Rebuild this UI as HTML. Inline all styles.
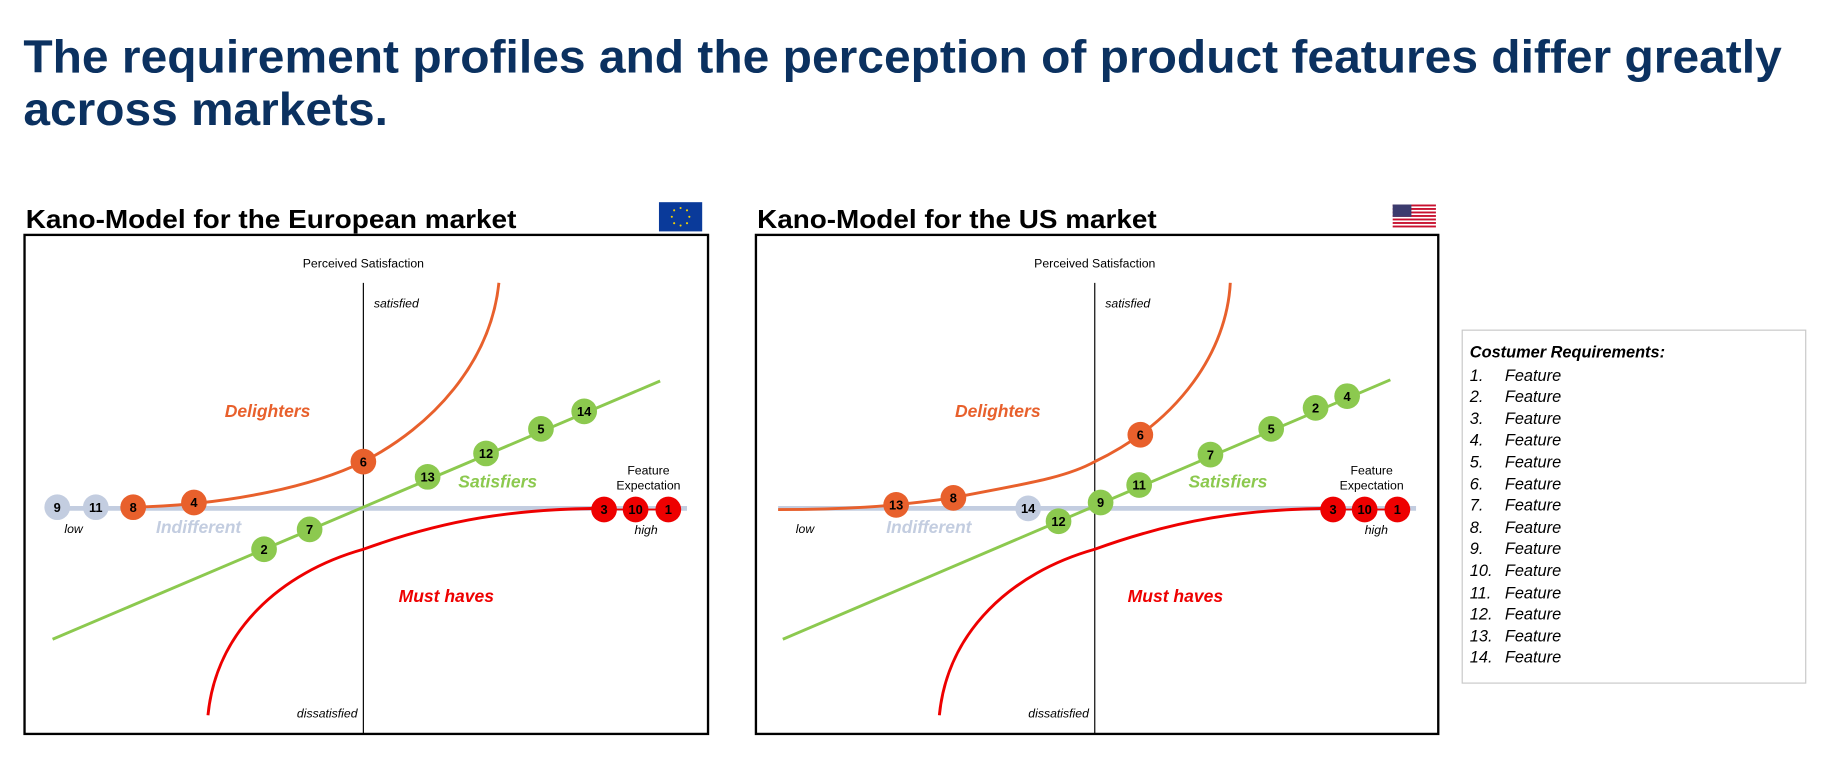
<!DOCTYPE html>
<html><head><meta charset="utf-8"><style>
html,body{margin:0;padding:0;background:#fff}
svg{display:block}
text{font-family:"Liberation Sans",Arial,sans-serif}
</style></head><body>
<svg width="1832" height="776" viewBox="0 0 1568 664" preserveAspectRatio="none" xmlns="http://www.w3.org/2000/svg">
<text x="20" y="62" font-size="40" font-weight="bold" fill="#0b3160" textLength="1505" lengthAdjust="spacingAndGlyphs">The requirement profiles and the perception of product features differ greatly</text>
<text x="20" y="107" font-size="40" font-weight="bold" fill="#0b3160" textLength="312" lengthAdjust="spacingAndGlyphs">across markets.</text>

<text x="22" y="195" font-size="22" font-weight="bold" textLength="420" lengthAdjust="spacingAndGlyphs">Kano-Model for the European market</text>
<rect x="564" y="173" width="37" height="25" fill="#0a3a9a"/>
<g fill="#f5d000">
<circle cx="582.5" cy="178" r="0.9"/><circle cx="588" cy="180" r="0.9"/><circle cx="590" cy="185.5" r="0.9"/><circle cx="588" cy="191" r="0.9"/><circle cx="582.5" cy="193" r="0.9"/><circle cx="577" cy="191" r="0.9"/><circle cx="575" cy="185.5" r="0.9"/><circle cx="577" cy="180" r="0.9"/>
</g>
<text x="648" y="195" font-size="22" font-weight="bold" textLength="342" lengthAdjust="spacingAndGlyphs">Kano-Model for the US market</text>
<g>
<rect x="1192" y="175" width="37" height="20" fill="#fff"/>
<rect x="1192" y="175" width="37" height="1.6" fill="#c8102e"/><rect x="1192" y="178" width="37" height="1.6" fill="#c8102e"/><rect x="1192" y="181" width="37" height="1.6" fill="#c8102e"/><rect x="1192" y="184" width="37" height="1.6" fill="#c8102e"/><rect x="1192" y="187" width="37" height="1.6" fill="#c8102e"/><rect x="1192" y="190" width="37" height="1.6" fill="#c8102e"/><rect x="1192" y="193" width="37" height="1.6" fill="#c8102e"/>
<rect x="1192" y="175" width="16" height="10.5" fill="#3c3b6e"/>
</g>

<!-- EU chart -->
<g>
<rect x="21" y="201" width="585" height="427" fill="none" stroke="#000" stroke-width="2"/>
<line x1="311" y1="242" x2="311" y2="628" stroke="#000" stroke-width="1"/>
<text x="311" y="229" font-size="10.5" text-anchor="middle">Perceived Satisfaction</text>
<text x="320" y="263" font-size="10.5" font-style="italic">satisfied</text>
<text x="306" y="614" font-size="10.5" font-style="italic" text-anchor="end">dissatisfied</text>
<line x1="40" y1="435" x2="588" y2="435" stroke="#c3cde0" stroke-width="4"/>
<line x1="45" y1="547" x2="565" y2="326" stroke="#8cc94f" stroke-width="2.5"/>
<path d="M113,434 C200,432 270,415 311,395 C370,365 420,310 427,242" fill="none" stroke="#e8602c" stroke-width="2.5"/>
<path d="M178,612 C185,540 240,490 311,470 C380,445 440,435 520,435" fill="none" stroke="#ee0000" stroke-width="2.5"/>
<text x="229" y="357" font-size="15" font-weight="bold" font-style="italic" fill="#e8602c" text-anchor="middle">Delighters</text>
<text x="426" y="417" font-size="15" font-weight="bold" font-style="italic" fill="#8cc94f" text-anchor="middle">Satisfiers</text>
<text x="170" y="456" font-size="15" font-weight="bold" font-style="italic" fill="#c3cde0" text-anchor="middle">Indifferent</text>
<text x="382" y="515" font-size="15" font-weight="bold" font-style="italic" fill="#ee0000" text-anchor="middle">Must haves</text>
<text x="555" y="406" font-size="10.5" text-anchor="middle">Feature</text>
<text x="555" y="419" font-size="10.5" text-anchor="middle">Expectation</text>
<text x="63" y="456" font-size="10.5" font-style="italic" text-anchor="middle">low</text>
<text x="553" y="457" font-size="10.5" font-style="italic" text-anchor="middle">high</text>
</g>
<g font-size="11" font-weight="bold" text-anchor="middle">
<circle cx="49" cy="434" r="11" fill="#c3cde0"/><text x="49" y="438">9</text>
<circle cx="82" cy="434" r="11" fill="#c3cde0"/><text x="82" y="438">11</text>
<circle cx="114" cy="434" r="11" fill="#e8602c"/><text x="114" y="438">8</text>
<circle cx="166" cy="430" r="11" fill="#e8602c"/><text x="166" y="434">4</text>
<circle cx="311" cy="395" r="11" fill="#e8602c"/><text x="311" y="399">6</text>
<circle cx="226" cy="470" r="11" fill="#8cc94f"/><text x="226" y="474">2</text>
<circle cx="265" cy="453" r="11" fill="#8cc94f"/><text x="265" y="457">7</text>
<circle cx="366" cy="408" r="11" fill="#8cc94f"/><text x="366" y="412">13</text>
<circle cx="416" cy="388" r="11" fill="#8cc94f"/><text x="416" y="392">12</text>
<circle cx="463" cy="367" r="11" fill="#8cc94f"/><text x="463" y="371">5</text>
<circle cx="500" cy="352" r="11" fill="#8cc94f"/><text x="500" y="356">14</text>
<line x1="517" y1="436" x2="572" y2="436" stroke="#ee0000" stroke-width="1.5"/>
<circle cx="517" cy="436" r="11" fill="#ee0000"/><text x="517" y="440">3</text>
<circle cx="544" cy="436" r="11" fill="#ee0000"/><text x="544" y="440">10</text>
<circle cx="572" cy="436" r="11" fill="#ee0000"/><text x="572" y="440">1</text>
</g>

<!-- US chart -->
<g>
<rect x="647" y="201" width="584" height="427" fill="none" stroke="#000" stroke-width="2"/>
<line x1="937" y1="242" x2="937" y2="628" stroke="#000" stroke-width="1"/>
<text x="937" y="229" font-size="10.5" text-anchor="middle">Perceived Satisfaction</text>
<text x="946" y="263" font-size="10.5" font-style="italic">satisfied</text>
<text x="932" y="614" font-size="10.5" font-style="italic" text-anchor="end">dissatisfied</text>
<line x1="666" y1="435" x2="1212" y2="435" stroke="#c3cde0" stroke-width="4"/>
<line x1="670" y1="547" x2="1190" y2="325" stroke="#8cc94f" stroke-width="2.5"/>
<path d="M666,436 C720,436 760,434 816,426 C870,415 910,410 937,395 C1010,360 1050,300 1053,242" fill="none" stroke="#e8602c" stroke-width="2.5"/>
<path d="M804,612 C811,540 866,490 937,470 C1006,445 1066,435 1146,435" fill="none" stroke="#ee0000" stroke-width="2.5"/>
<text x="854" y="357" font-size="15" font-weight="bold" font-style="italic" fill="#e8602c" text-anchor="middle">Delighters</text>
<text x="1051" y="417" font-size="15" font-weight="bold" font-style="italic" fill="#8cc94f" text-anchor="middle">Satisfiers</text>
<text x="795" y="456" font-size="15" font-weight="bold" font-style="italic" fill="#c3cde0" text-anchor="middle">Indifferent</text>
<text x="1006" y="515" font-size="15" font-weight="bold" font-style="italic" fill="#ee0000" text-anchor="middle">Must haves</text>
<text x="1174" y="406" font-size="10.5" text-anchor="middle">Feature</text>
<text x="1174" y="419" font-size="10.5" text-anchor="middle">Expectation</text>
<text x="689" y="456" font-size="10.5" font-style="italic" text-anchor="middle">low</text>
<text x="1178" y="457" font-size="10.5" font-style="italic" text-anchor="middle">high</text>
</g>
<g font-size="11" font-weight="bold" text-anchor="middle">
<circle cx="767" cy="432" r="11" fill="#e8602c"/><text x="767" y="436">13</text>
<circle cx="816" cy="426" r="11" fill="#e8602c"/><text x="816" y="430">8</text>
<circle cx="976" cy="372" r="11" fill="#e8602c"/><text x="976" y="376">6</text>
<circle cx="880" cy="435" r="11" fill="#c3cde0"/><text x="880" y="439">14</text>
<circle cx="906" cy="446" r="11" fill="#8cc94f"/><text x="906" y="450">12</text>
<circle cx="942" cy="430" r="11" fill="#8cc94f"/><text x="942" y="434">9</text>
<circle cx="975" cy="415" r="11" fill="#8cc94f"/><text x="975" y="419">11</text>
<circle cx="1036" cy="389" r="11" fill="#8cc94f"/><text x="1036" y="393">7</text>
<circle cx="1088" cy="367" r="11" fill="#8cc94f"/><text x="1088" y="371">5</text>
<circle cx="1126" cy="349" r="11" fill="#8cc94f"/><text x="1126" y="353">2</text>
<circle cx="1153" cy="339" r="11" fill="#8cc94f"/><text x="1153" y="343">4</text>
<line x1="1141" y1="436" x2="1196" y2="436" stroke="#ee0000" stroke-width="1.5"/>
<circle cx="1141" cy="436" r="11" fill="#ee0000"/><text x="1141" y="440">3</text>
<circle cx="1168" cy="436" r="11" fill="#ee0000"/><text x="1168" y="440">10</text>
<circle cx="1196" cy="436" r="11" fill="#ee0000"/><text x="1196" y="440">1</text>
</g>

<!-- Legend -->
<rect x="1251.5" y="282.5" width="294" height="302" fill="none" stroke="#c8c8c8" stroke-width="1"/>
<text x="1258" y="306" font-size="14" font-weight="bold" font-style="italic">Costumer Requirements:</text>
<g font-size="14" font-style="italic">
<text x="1258" y="326">1.</text><text x="1288" y="326">Feature</text>
<text x="1258" y="344">2.</text><text x="1288" y="344">Feature</text>
<text x="1258" y="363">3.</text><text x="1288" y="363">Feature</text>
<text x="1258" y="381">4.</text><text x="1288" y="381">Feature</text>
<text x="1258" y="400">5.</text><text x="1288" y="400">Feature</text>
<text x="1258" y="419">6.</text><text x="1288" y="419">Feature</text>
<text x="1258" y="437">7.</text><text x="1288" y="437">Feature</text>
<text x="1258" y="456">8.</text><text x="1288" y="456">Feature</text>
<text x="1258" y="474">9.</text><text x="1288" y="474">Feature</text>
<text x="1258" y="493">10.</text><text x="1288" y="493">Feature</text>
<text x="1258" y="512">11.</text><text x="1288" y="512">Feature</text>
<text x="1258" y="530">12.</text><text x="1288" y="530">Feature</text>
<text x="1258" y="549">13.</text><text x="1288" y="549">Feature</text>
<text x="1258" y="567">14.</text><text x="1288" y="567">Feature</text>
</g>
</svg>
</body></html>
